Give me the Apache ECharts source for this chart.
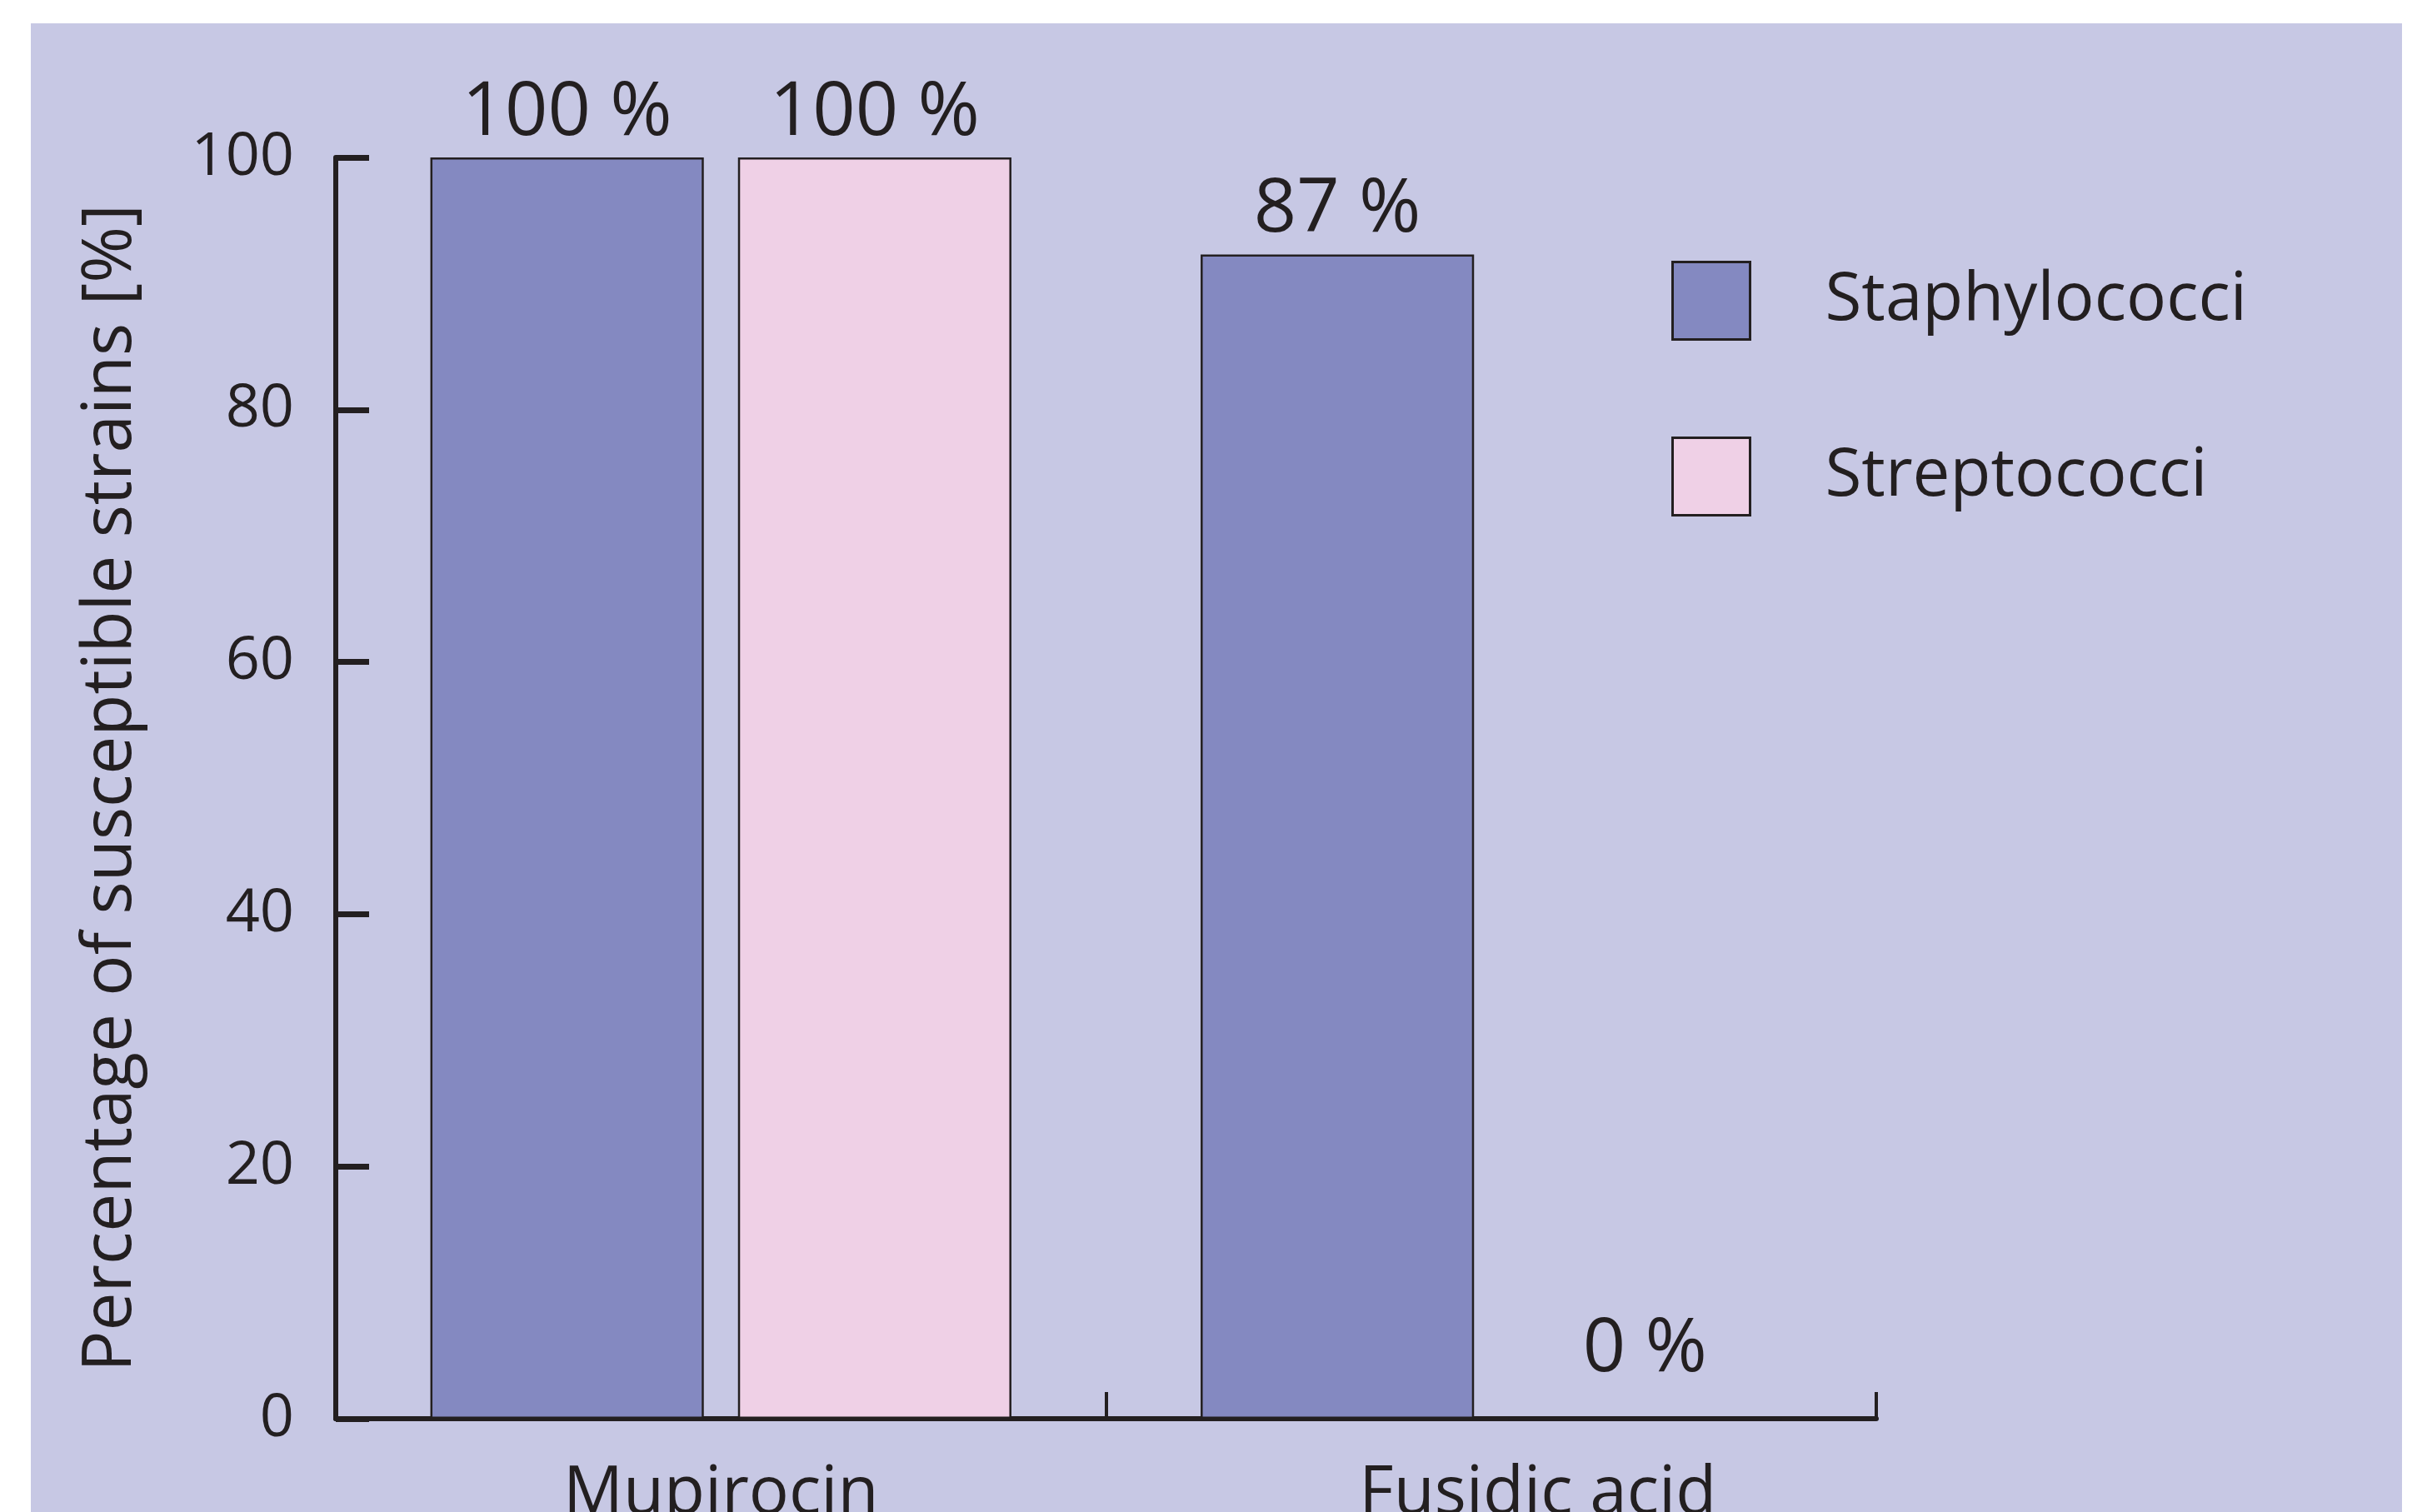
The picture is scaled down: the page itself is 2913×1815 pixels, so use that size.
<!DOCTYPE html>
<html>
<head>
<meta charset="utf-8">
<script src="https://cdn.jsdelivr.net/npm/echarts@6/dist/echarts.min.js"></script>
<style>
html,body{margin:0;padding:0;background:#fff;}
#chart{width:2913px;height:1815px;}
</style>
</head>
<body>
<div id="chart"></div>
<script>
// ---- data ----
var categories = ['Mupirocin', 'Fusidic acid'];
var seriesNames = ['Staphylococci', 'Streptococci'];
var staphValues = [100, 92.3];   // bar heights as drawn
var streptoValues = [100, 0];
var staphLabels = ['100 %', '87 %'];  // printed labels
var streptoLabels = ['100 %', '0 %'];
var yTicks = [0, 20, 40, 60, 80, 100];

var TEXT = '#231F20';
var FONT = '"Open Sans", "Noto Sans", sans-serif';

function makeData(values, labels) {
  return values.map(function (v, i) {
    var item = { value: v, labelText: labels[i] };
    if (v === 0) item.label = { distance: 36 };
    return item;
  });
}

var chart = echarts.init(document.getElementById('chart'), null, { renderer: 'canvas' });
chart.setOption({
  backgroundColor: '#ffffff',
  animation: false,
  textStyle: { fontFamily: FONT, color: TEXT },
  graphic: [{
    type: 'rect', silent: true, z: -100,
    shape: { x: 37, y: 28, width: 2846, height: 1800 },
    style: { fill: '#C7C8E4' }
  }],
  grid: { left: 403, right: 661, top: 189, bottom: 112, containLabel: false, outerBoundsMode: 'none' },
  legend: {
    orient: 'vertical', left: 2006, top: 313, padding: 0,
    itemWidth: 93, itemHeight: 93, itemGap: 115,
    icon: 'rect',
    itemStyle: { borderColor: TEXT, borderWidth: 3 },
    textStyle: { fontFamily: FONT, fontSize: 80, color: TEXT, padding: [0, 0, 0, 85] },
    data: seriesNames
  },
  xAxis: {
    type: 'category',
    data: categories.map(function (c, i) {
      return i === 1 ? { value: c, textStyle: { padding: [0, 0, 0, 112] } } : c;
    }),
    axisLine: { lineStyle: { color: TEXT, width: 6 } },
    axisTick: { show: true, inside: true, length: 32, alignWithLabel: false, lineStyle: { color: TEXT, width: 4 } },
    axisLabel: { fontFamily: FONT, fontSize: 80, color: TEXT, margin: 51 },
    splitLine: { show: false }
  },
  yAxis: {
    type: 'value', min: yTicks[0], max: yTicks[yTicks.length - 1], interval: 20,
    name: 'Percentage of susceptible strains [%]',
    nameLocation: 'middle', nameGap: 228,
    nameTextStyle: { fontFamily: FONT, fontSize: 82, color: TEXT },
    axisLine: { show: true, lineStyle: { color: TEXT, width: 6 } },
    axisTick: { show: true, inside: true, length: 40, lineStyle: { color: TEXT, width: 7 } },
    axisLabel: { fontFamily: FONT, fontSize: 72, color: TEXT, margin: 50 },
    splitLine: { show: false }
  },
  series: [{
    name: seriesNames[0], type: 'bar',
    barWidth: '35.5%', barGap: '12.5%',
    itemStyle: { color: '#8489C1', borderColor: TEXT, borderWidth: 2.5 },
    label: {
      show: true, position: 'top', distance: 8,
      fontFamily: FONT, fontSize: 90, color: TEXT,
      formatter: function (p) { return p.data.labelText; }
    },
    data: makeData(staphValues, staphLabels)
  }, {
    name: seriesNames[1], type: 'bar',
    barWidth: '35.5%', barGap: '12.5%',
    itemStyle: { color: '#EFD0E6', borderColor: TEXT, borderWidth: 2.5 },
    label: {
      show: true, position: 'top', distance: 8,
      fontFamily: FONT, fontSize: 90, color: TEXT,
      formatter: function (p) { return p.data.labelText; }
    },
    data: makeData(streptoValues, streptoLabels)
  }]
});
</script>
</body>
</html>
